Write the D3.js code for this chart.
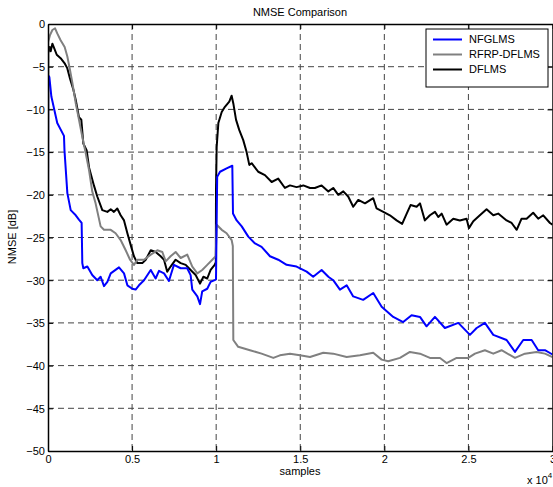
<!DOCTYPE html>
<html><head><meta charset="utf-8">
<script src="https://cdn.jsdelivr.net/npm/d3@7"></script>
<style>body{margin:0;background:#fff}svg{display:block;font-family:"Liberation Sans",Arial,sans-serif}</style>
</head><body><svg id="c" width="553" height="487"></svg>
<script>
const xTicks = [0, 0.5, 1, 1.5, 2, 2.5, 3];
const yTicks = [0, -5, -10, -15, -20, -25, -30, -35, -40, -45, -50];
const seriesNames = ["NFGLMS", "RFRP-DFLMS", "DFLMS"];
const seriesColors = ["#0000ff", "#808080", "#000000"];

const nfgX = [0,0.001,0.008,0.02,0.055,0.095,0.098,0.115,0.135,0.165,0.184,0.2,0.204,0.21,0.234,0.263,0.293,0.313,0.333,0.353,0.373,0.422,0.452,0.472,0.501,0.521,0.541,0.571,0.611,0.64,0.66,0.69,0.719,0.749,0.789,0.828,0.848,0.858,0.888,0.904,0.917,0.947,0.967,0.991,0.999,1.006,1.023,1.062,1.096,1.1,1.122,1.152,1.191,1.231,1.27,1.32,1.369,1.419,1.478,1.538,1.577,1.627,1.667,1.696,1.736,1.776,1.815,1.874,1.934,1.984,2.053,2.112,2.162,2.212,2.251,2.301,2.36,2.44,2.509,2.549,2.598,2.648,2.727,2.777,2.826,2.876,2.915,2.955,3.0];
const nfgY = [-26.5,-6,-6.2,-8.5,-11.6,-13.1,-14.8,-19.8,-21.8,-22.4,-22.9,-23.3,-28.0,-28.6,-28.4,-29.4,-30,-29.6,-30.7,-30.2,-29.2,-28.5,-29.2,-30.6,-31.0,-31.1,-30.6,-30.0,-28.8,-29.8,-28.9,-29.2,-30.1,-28.2,-28.6,-28.6,-29.4,-31.1,-31.9,-32.8,-31.3,-31.0,-30.2,-30.0,-29.9,-17.9,-17.3,-16.9,-16.6,-22.2,-23.0,-23.7,-24.9,-25.7,-26.1,-27.2,-27.6,-28.2,-28.4,-29.0,-29.6,-28.8,-29.6,-30.0,-31.1,-30.6,-31.9,-32.3,-31.5,-33.1,-34.3,-34.9,-34.1,-34.3,-35.4,-34.3,-35.6,-35.0,-36.4,-35.6,-35.0,-36.4,-37.0,-38.4,-37.0,-37.0,-38.2,-38.2,-38.7];

const rfrpX = [0,0.001,0.012,0.026,0.042,0.055,0.075,0.099,0.115,0.131,0.145,0.165,0.184,0.204,0.224,0.244,0.263,0.283,0.313,0.333,0.373,0.402,0.432,0.462,0.488,0.511,0.531,0.571,0.611,0.65,0.68,0.7,0.729,0.759,0.789,0.828,0.858,0.888,0.917,0.947,0.977,0.997,1.003,1.033,1.062,1.092,1.099,1.102,1.131,1.201,1.27,1.34,1.379,1.439,1.498,1.558,1.637,1.696,1.776,1.855,1.934,1.984,2.023,2.093,2.152,2.212,2.271,2.331,2.37,2.43,2.499,2.539,2.598,2.648,2.697,2.777,2.836,2.905,2.955,3.0];
const rfrpY = [-26,-2.1,-1.3,-0.7,-0.5,-1.1,-1.9,-2.7,-3.8,-5.4,-6.9,-9.3,-11.2,-13.2,-15.1,-17.1,-19.6,-21.0,-23.7,-24.1,-24.1,-24.5,-25.3,-26.5,-27.6,-28.2,-27.6,-27.6,-27.0,-26.5,-26.7,-27.8,-27.2,-26.7,-27.4,-27.0,-28.4,-29.2,-28.8,-28.2,-27.6,-27.2,-23.5,-24.1,-24.5,-25.3,-26.0,-37.0,-37.8,-38.2,-38.6,-39.1,-38.8,-38.6,-38.8,-39.0,-38.5,-38.6,-39.0,-38.8,-38.5,-39.3,-39.5,-39.1,-38.4,-38.6,-39.1,-39.1,-39.7,-39.1,-39.1,-38.6,-38.2,-38.6,-38.2,-39.1,-38.6,-38.4,-38.6,-39.0];

const dflmsX = [0,0.001,0.01,0.016,0.026,0.036,0.052,0.075,0.099,0.115,0.131,0.151,0.165,0.184,0.198,0.21,0.23,0.244,0.273,0.293,0.323,0.353,0.373,0.392,0.412,0.432,0.452,0.472,0.495,0.511,0.531,0.561,0.581,0.611,0.64,0.67,0.69,0.709,0.729,0.759,0.789,0.819,0.848,0.878,0.904,0.924,0.947,0.967,0.991,0.998,0.999,1.003,1.013,1.033,1.052,1.078,1.092,1.102,1.118,1.137,1.161,1.181,1.197,1.211,1.25,1.29,1.33,1.369,1.409,1.439,1.478,1.518,1.558,1.587,1.627,1.667,1.696,1.726,1.756,1.785,1.815,1.845,1.885,1.934,1.954,1.994,2.033,2.073,2.106,2.133,2.156,2.192,2.212,2.241,2.271,2.301,2.321,2.341,2.37,2.41,2.449,2.489,2.503,2.529,2.568,2.608,2.648,2.677,2.727,2.757,2.787,2.816,2.846,2.885,2.915,2.945,2.985,3.0];
const dflmsY = [-26,-3.4,-2.7,-3.2,-2.3,-2.8,-3.6,-4.0,-4.6,-5.2,-6.4,-7.7,-8.9,-10.9,-11.2,-14.0,-14.8,-16.8,-18.9,-20.2,-21.8,-22.0,-21.7,-22.0,-21.6,-22.4,-23.0,-24.5,-26.1,-27.2,-28.0,-28.0,-27.6,-26.5,-26.7,-27.2,-27.6,-29.0,-28.4,-27.6,-28.0,-28.2,-28.8,-29.4,-30.4,-29.6,-29.8,-28.8,-28.2,-27.9,-19.4,-14.4,-11.6,-10.3,-9.7,-9.1,-8.4,-9.3,-11.2,-12.4,-13.6,-15.0,-16.5,-16.3,-17.3,-17.7,-18.5,-18.1,-19.2,-18.9,-19.1,-18.9,-19.2,-19.2,-18.9,-19.6,-19.2,-20.0,-19.6,-20.2,-21.4,-20.6,-21.0,-20.4,-21.6,-22.0,-22.4,-23.0,-23.4,-22.2,-21.2,-21.4,-21.0,-23.0,-22.4,-22.0,-22.6,-22.2,-23.5,-22.8,-23.0,-22.8,-23.9,-23.1,-22.4,-21.7,-22.4,-22.2,-23.0,-23.3,-24.1,-22.8,-22.8,-22.1,-22.8,-22.4,-23.3,-23.5];

const svg = d3.select("#c");
const m = {l: 48, r: 552.5, t: 24, b: 451};
const x = d3.scaleLinear().domain([0, 3]).range([m.l, m.r]);
const y = d3.scaleLinear().domain([-50, 0]).range([m.b, m.t]);

// grid
const g = svg.append("g");
g.selectAll(".gx").data(xTicks.slice(1, -1)).enter().append("line")
  .attr("x1", d => x(d)).attr("x2", d => x(d)).attr("y1", m.t).attr("y2", m.b)
  .attr("stroke", "#444").attr("stroke-dasharray", "6,4").attr("stroke-width", 1);
g.selectAll(".gy").data(yTicks.slice(1, -1)).enter().append("line")
  .attr("y1", d => y(d)).attr("y2", d => y(d)).attr("x1", m.l).attr("x2", m.r)
  .attr("stroke", "#444").attr("stroke-dasharray", "6,4").attr("stroke-width", 1);

// lines
const line = d3.line().x(d => x(d[0])).y(d => y(d[1]));
const data = [
  d3.zip(dflmsX, dflmsY),
  d3.zip(rfrpX, rfrpY),
  d3.zip(nfgX, nfgY)
];
const cols = [seriesColors[2], seriesColors[1], seriesColors[0]];
const clip = svg.append("clipPath").attr("id", "clp").append("rect")
  .attr("x", m.l).attr("y", m.t).attr("width", m.r - m.l).attr("height", m.b - m.t);
data.forEach((d, i) => {
  svg.append("path").attr("d", line(d)).attr("fill", "none")
    .attr("stroke", cols[i]).attr("stroke-width", 2).attr("stroke-linejoin", "round")
    .attr("clip-path", "url(#clp)");
});

// axes
const xa = svg.append("g").attr("transform", `translate(0,${m.b})`)
  .call(d3.axisBottom(x).tickValues(xTicks).tickSizeInner(-5).tickSizeOuter(0).tickPadding(4).tickFormat(d3.format("")));
const xa2 = svg.append("g").attr("transform", `translate(0,${m.t})`)
  .call(d3.axisTop(x).tickValues(xTicks).tickSizeInner(-5).tickSizeOuter(0).tickFormat(""));
const ya = svg.append("g").attr("transform", `translate(${m.l},0)`)
  .call(d3.axisLeft(y).tickValues(yTicks).tickSizeInner(-5).tickSizeOuter(0).tickPadding(3).tickFormat(d3.format("")));
const ya2 = svg.append("g").attr("transform", `translate(${m.r},0)`)
  .call(d3.axisRight(y).tickValues(yTicks).tickSizeInner(-5).tickSizeOuter(0).tickFormat(""));
[xa, xa2, ya, ya2].forEach(a => {
  a.select(".domain").attr("stroke", "#000").attr("stroke-width", 1.5);
  a.selectAll(".tick line").attr("stroke", "#000");
  a.selectAll("text").attr("font-size", 11).attr("fill", "#000").attr("font-family", "Liberation Sans, Arial, sans-serif");
});
ya.selectAll(".tick text").attr("dy", "0.35em");

// texts
svg.append("text").attr("x", 300).attr("y", 16).attr("text-anchor", "middle")
  .attr("font-size", 11).text("NMSE Comparison");
svg.append("text").attr("x", 300).attr("y", 475).attr("text-anchor", "middle")
  .attr("font-size", 11).text("samples");
svg.append("text").attr("transform", "translate(16,237) rotate(-90)").attr("text-anchor", "middle")
  .attr("font-size", 11).text("NMSE [dB]");
const ex = svg.append("text").attr("x", 527).attr("y", 484).attr("font-size", 11);
ex.append("tspan").text("x 10");
ex.append("tspan").attr("dy", -6).attr("font-size", 8).text("4");

// legend
const lg = svg.append("g");
lg.append("rect").attr("x", 426).attr("y", 29).attr("width", 122).attr("height", 58)
  .attr("fill", "#fff").attr("stroke", "#000").attr("stroke-width", 1);
seriesNames.forEach((n, i) => {
  const yy = 39.5 + i * 15;
  lg.append("line").attr("x1", 433).attr("x2", 462).attr("y1", yy).attr("y2", yy)
    .attr("stroke", seriesColors[i]).attr("stroke-width", 2);
  lg.append("text").attr("x", 469).attr("y", yy).attr("dy", "0.35em").attr("font-size", 11).text(n);
});
</script></body></html>
